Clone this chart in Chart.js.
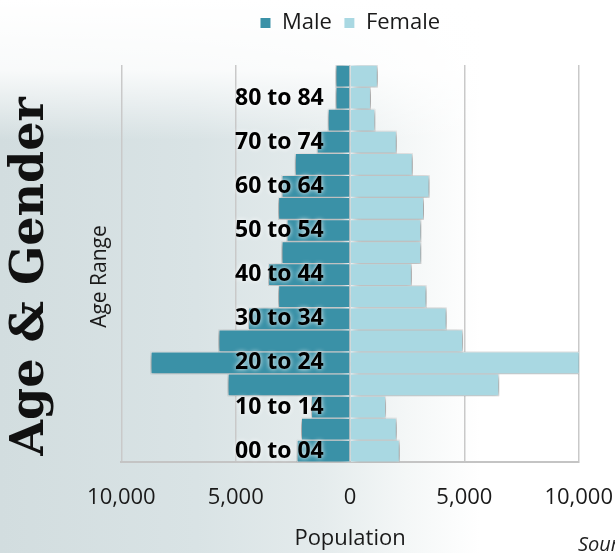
<!DOCTYPE html>
<html>
<head>
<meta charset="utf-8">
<title>Age & Gender</title>
<script src="https://cdn.jsdelivr.net/npm/chart.js@4/dist/chart.umd.min.js"></script>
<style>
    html, body {
        margin: 0;
        padding: 0;
        width: 615px;
        height: 553px;
        overflow: hidden;
    }
    body {
        position: relative;
        font-family: 'Open Sans', sans-serif;
        background:
            linear-gradient(to bottom, #ffffff 0px, rgba(255,255,255,0.85) 70px, rgba(255,255,255,0) 140px),
            linear-gradient(to right, #d2dddf 0%, #d9e3e5 32%, #e4ebec 52%, #f4f7f7 66%, #ffffff 78%);
    }
    #contenedor {
        position: absolute;
        left: 0;
        top: 0;
        width: 615px;
        height: 553px;
    }
    #fuente {
        position: absolute;
        left: 578px;
        top: 530px;
        font: italic 20px 'Open Sans', sans-serif;
        color: #222;
        white-space: nowrap;
    }
</style>
</head>
<body>
<div id="contenedor"><canvas id="piramide-grafica"></canvas></div>
<div id="fuente">Source: U.S. Census Bureau</div>
<script>
// age groups, bottom to top
const ageGroups = ['00 to 04', '05 to 09', '10 to 14', '15 to 19', '20 to 24', '25 to 29',
    '30 to 34', '35 to 39', '40 to 44', '45 to 49', '50 to 54', '55 to 59',
    '60 to 64', '65 to 69', '70 to 74', '75 to 79', '80 to 84', '85 plus'];
const male = [2320, 2130, 1690, 5340, 8710, 5740, 4450, 3130, 3570, 2980,
    2760, 3130, 2980, 2400, 1440, 960, 620, 620];
const female = [2160, 2030, 1560, 6510, 10200, 4930, 4210, 3330, 2690, 3100,
    3100, 3220, 3460, 2730, 2030, 1090, 900, 1200];
const populationTicks = [-10000, -5000, 0, 5000, 10000];

(function () {

    const grafica = document.querySelector('#piramide-grafica');
    if (!grafica) return;

    // sombra de las barras (male hacia la izquierda, female hacia la derecha)
    const sombraBarras = {
        id: 'sombraBarras',
        beforeDatasetDraw(chart, args) {
            const ctx = chart.ctx;
            ctx.save();
            ctx.shadowColor = 'rgba(0, 0, 0, 0.45)';
            ctx.shadowBlur = 7;
            ctx.shadowOffsetX = args.index === 0 ? -3 : 3;
            ctx.shadowOffsetY = 1;
        },
        afterDatasetDraw(chart) {
            chart.ctx.restore();
        }
    };

    // brillo blanco de las etiquetas de edad (se dibujan encima de las barras)
    const brilloEtiquetas = {
        id: 'brilloEtiquetas',
        afterDatasetsDraw(chart) {
            const ctx = chart.ctx;
            ctx.save();
            ctx.shadowColor = '#ffffff';
            ctx.shadowBlur = 5;
        },
        afterDraw(chart) {
            chart.ctx.restore();
        }
    };

    // espacio entre la leyenda y el grafico
    const margenLeyenda = {
        id: 'margenLeyenda',
        beforeInit(chart) {
            const fitOriginal = chart.legend.fit;
            chart.legend.fit = function () {
                fitOriginal.bind(chart.legend)();
                this.height += 21;
            };
        }
    };

    new Chart(grafica.getContext('2d'), {
        type: 'bar',
        data: {
            labels: ageGroups,
            datasets: [{
                label: 'Male',
                data: male.map(v => -v),
                backgroundColor: '#3a91a7',
                borderColor: '#ffffff',
                borderWidth: 1,
                barPercentage: 1,
                categoryPercentage: 1
            }, {
                label: 'Female',
                data: female,
                backgroundColor: '#a9d8e2',
                borderColor: '#ffffff',
                borderWidth: 1,
                barPercentage: 1,
                categoryPercentage: 1
            }]
        },
        options: {
            indexAxis: 'y',
            responsive: true,
            maintainAspectRatio: false,
            animation: false,
            layout: {
                padding: { top: 0, right: 0, bottom: 0, left: 0 }
            },
            scales: {
                x: {
                    type: 'linear',
                    stacked: true,
                    min: populationTicks[0],
                    max: populationTicks[populationTicks.length - 1],
                    afterBuildTicks: scale => {
                        scale.ticks = populationTicks.map(v => ({ value: v }));
                    },
                    ticks: {
                        padding: 2,
                        color: '#1a1a1a',
                        font: { family: 'Open Sans', size: 22 },
                        callback: v => Math.abs(v).toLocaleString('en-US')
                    },
                    grid: {
                        color: '#c9c9c9',
                        lineWidth: 1.5,
                        drawTicks: true,
                        tickLength: 20,
                        tickColor: 'rgba(0, 0, 0, 0)'
                    },
                    border: { display: true, color: '#c4c4c4', width: 2 },
                    title: {
                        display: true,
                        text: 'Population',
                        color: '#1a1a1a',
                        font: { family: 'Open Sans', size: 22 },
                        padding: { top: 13, bottom: 1 }
                    }
                },
                y: {
                    type: 'category',
                    stacked: true,
                    reverse: true,
                    position: { x: -1150 },
                    grid: { display: false, drawTicks: false },
                    border: { display: false },
                    ticks: {
                        z: 1,
                        autoSkip: false,
                        padding: 0,
                        color: '#000000',
                        font: { family: 'Open Sans', size: 23, weight: 'bold' },
                        callback: (v, i) => i % 2 === 0 ? ageGroups[i] : ''
                    }
                }
            },
            plugins: {
                legend: {
                    position: 'top',
                    fullSize: false,
                    labels: {
                        boxWidth: 11,
                        boxHeight: 11,
                        padding: 12,
                        color: '#1a1a1a',
                        font: { family: 'Open Sans', size: 22 }
                    }
                },
                title: {
                    display: true,
                    text: 'Age & Gender',
                    position: 'left',
                    fullSize: true,
                    color: '#111111',
                    font: { family: 'DejaVu Serif', size: 46, weight: 'bold' },
                    padding: { top: 3, bottom: 0 }
                },
                // titulo del eje de edades
                subtitle: {
                    display: true,
                    text: 'Age Range',
                    position: 'left',
                    fullSize: true,
                    color: '#1a1a1a',
                    font: { family: 'Open Sans', size: 21 },
                    padding: { top: 29, bottom: 9 }
                },
                tooltip: { enabled: false }
            }
        },
        plugins: [sombraBarras, brilloEtiquetas, margenLeyenda]
    });

})();
</script>
</body>
</html>
